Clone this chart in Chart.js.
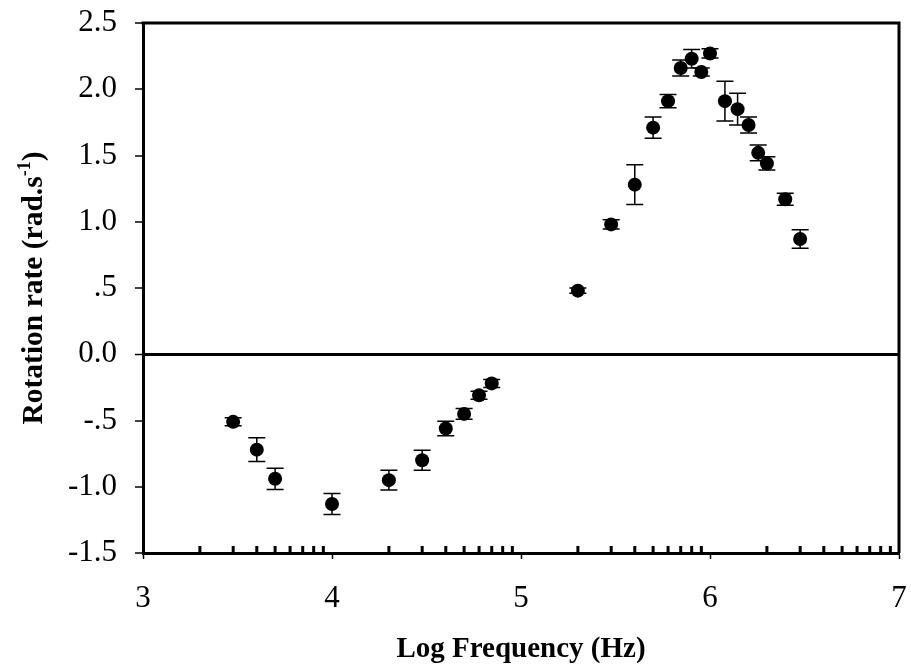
<!DOCTYPE html>
<html>
<head>
<meta charset="utf-8">
<title>Rotation rate vs log frequency</title>
<script src="https://cdn.jsdelivr.net/npm/chart.js@4.4.1/dist/chart.umd.min.js"></script>
<style>
  html, body { margin: 0; padding: 0; background: #fff; }
  #chart { display: block; }
</style>
</head>
<body>
<canvas id="chart" width="911" height="672"></canvas>
<script>
// log10 of the drive frequency (Hz)
const logFreq = [3.477, 3.602, 3.699, 4.0, 4.301, 4.477, 4.602, 4.699, 4.778, 4.845,
                 5.301, 5.477, 5.602, 5.699, 5.778, 5.845, 5.903, 5.954, 6.0, 6.079,
                 6.146, 6.204, 6.255, 6.301, 6.398, 6.477];
// mean rotation rate (rad/s)
const rotation = [-0.51, -0.72, -0.94, -1.13, -0.95, -0.80, -0.56, -0.45, -0.31, -0.22,
                  0.48, 0.98, 1.28, 1.71, 1.91, 2.16, 2.23, 2.13, 2.27, 1.91,
                  1.85, 1.73, 1.52, 1.44, 1.17, 0.87];
// standard error of each mean
const rotationErr = [0.03, 0.09, 0.08, 0.08, 0.075, 0.075, 0.055, 0.04, 0.03, 0.03,
                     0.02, 0.035, 0.15, 0.08, 0.05, 0.06, 0.07, 0.03, 0.035, 0.15,
                     0.12, 0.06, 0.06, 0.05, 0.045, 0.07];

const yTickValues = [2.5, 2.0, 1.5, 1.0, 0.5, 0.0, -0.5, -1.0, -1.5];
const yTickLabels = ['2.5', '2.0', '1.5', '1.0', '.5', '0.0', '-.5', '-1.0', '-1.5'];

// decades that get log-spaced minor ticks (2x .. 9x)
const decades = [3, 4, 5, 6];
const minorMultipliers = [2, 3, 4, 5, 6, 7, 8, 9];

const serif = "'Liberation Serif', 'Times New Roman', serif";

const points = logFreq.map((x, i) => ({ x: x, y: rotation[i] }));

const errorBars = {
  id: 'errorBars',
  beforeDatasetsDraw(chart) {
    const { ctx, scales: { x, y } } = chart;
    ctx.save();
    ctx.strokeStyle = '#000';
    ctx.lineWidth = 1.5;
    logFreq.forEach((v, i) => {
      const px = x.getPixelForValue(v);
      const top = y.getPixelForValue(rotation[i] + rotationErr[i]);
      const bot = y.getPixelForValue(rotation[i] - rotationErr[i]);
      const cap = 8.5;
      ctx.beginPath();
      ctx.moveTo(px, top); ctx.lineTo(px, bot);
      ctx.moveTo(px - cap, top); ctx.lineTo(px + cap, top);
      ctx.moveTo(px - cap, bot); ctx.lineTo(px + cap, bot);
      ctx.stroke();
    });
    ctx.restore();
  }
};

const frame = {
  id: 'frame',
  afterDraw(chart) {
    const { ctx, chartArea: a, scales: { x } } = chart;
    ctx.save();
    ctx.strokeStyle = '#000';
    // top and right edges of the box
    ctx.lineWidth = 3;
    ctx.beginPath();
    ctx.moveTo(a.left - 1.5, a.top);
    ctx.lineTo(a.right, a.top);
    ctx.lineTo(a.right, a.bottom);
    ctx.stroke();
    // minor log ticks pointing into the plot
    ctx.lineWidth = 3;
    ctx.beginPath();
    decades.forEach(d => {
      minorMultipliers.forEach(m => {
        const px = x.getPixelForValue(d + Math.log10(m));
        ctx.moveTo(px, a.bottom);
        ctx.lineTo(px, a.bottom - 7);
      });
    });
    ctx.stroke();

    // y axis title with superscript
    const main = 'Rotation rate (rad.s';
    const sup = '-1';
    const close = ')';
    const f = 'bold 29.5px ' + serif;
    const fs = 'bold 18px ' + serif;
    ctx.font = f;
    const w1 = ctx.measureText(main).width;
    const w3 = ctx.measureText(close).width;
    ctx.font = fs;
    const w2 = ctx.measureText(sup).width;
    const total = w1 + w2 + w3;
    ctx.translate(42, (a.top + a.bottom) / 2);
    ctx.rotate(-Math.PI / 2);
    ctx.fillStyle = '#000';
    ctx.textBaseline = 'alphabetic';
    ctx.textAlign = 'left';
    let cx = -total / 2;
    ctx.font = f;
    ctx.fillText(main, cx, 0);
    cx += w1;
    ctx.font = fs;
    ctx.fillText(sup, cx, -12);
    cx += w2;
    ctx.font = f;
    ctx.fillText(close, cx, 0);
    ctx.restore();
  }
};

new Chart(document.getElementById('chart'), {
  type: 'scatter',
  data: {
    datasets: [{
      data: points,
      backgroundColor: '#000',
      borderColor: '#000',
      borderWidth: 0,
      pointRadius: 7,
      pointHoverRadius: 7
    }]
  },
  options: {
    responsive: false,
    animation: false,
    devicePixelRatio: 1,
    layout: { padding: { top: 23, right: 12, left: 0, bottom: 0 } },
    plugins: { legend: { display: false }, tooltip: { enabled: false } },
    scales: {
      x: {
        type: 'linear',
        min: 3,
        max: 7,
        afterFit(scale) {
          scale.height = 119;
          scale.paddingLeft = 0;
          scale.paddingRight = 0;
        },
        ticks: {
          stepSize: 1,
          color: '#000',
          padding: 21,
          font: { family: serif, size: 31 }
        },
        grid: {
          drawOnChartArea: false,
          tickColor: '#000',
          tickWidth: 1.5,
          tickLength: 6
        },
        border: { color: '#000', width: 3 },
        title: {
          display: true,
          text: 'Log Frequency (Hz)',
          color: '#000',
          padding: { top: 0, bottom: 5 },
          font: { family: serif, size: 29, weight: 'bold' }
        }
      },
      y: {
        min: -1.5,
        max: 2.5,
        afterFit(scale) {
          scale.width = 143;
          scale.paddingTop = 0;
          scale.paddingBottom = 0;
        },
        ticks: {
          stepSize: 0.5,
          color: '#000',
          padding: 18,
          font: { family: serif, size: 31 },
          callback: v => {
            const i = yTickValues.findIndex(t => Math.abs(t - v) < 1e-9);
            return i >= 0 ? yTickLabels[i] : '';
          }
        },
        grid: {
          color: c => (c.tick && Math.abs(c.tick.value) < 1e-9) ? '#000' : 'rgba(0,0,0,0)',
          lineWidth: c => (c.tick && Math.abs(c.tick.value) < 1e-9) ? 3 : 0,
          tickColor: '#000',
          tickWidth: 1.5,
          tickLength: 8
        },
        border: { color: '#000', width: 3 }
      }
    }
  },
  plugins: [errorBars, frame]
});
</script>
</body>
</html>
